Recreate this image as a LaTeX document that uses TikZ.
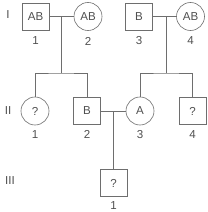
\documentclass[tikz,border=0pt]{standalone}
\usepackage{fontspec}
\setmainfont{Liberation Sans}
\usepackage{tikz}
\usetikzlibrary{positioning}
\usepackage{xcolor}
\definecolor{pedline}{HTML}{6E6E6E}
\definecolor{pedtext}{HTML}{505050}

\begin{document}
\begin{tikzpicture}[x=0.035cm, y=-0.035cm,
    every node/.style={text=pedtext, font=\fontsize{11.5}{13}\selectfont},
    male/.style={draw=pedline, line width=0.6pt, minimum size=0.95cm, inner sep=0pt},
    female/.style={draw=pedline, line width=0.6pt, circle, minimum size=0.98cm, inner sep=0pt},
    num/.style={inner sep=1pt},
    gen/.style={inner sep=0pt},
    tie/.style={draw=pedline, line width=0.6pt}]
  \useasboundingbox (0,0) rectangle (207,212);
  % generation I
  \node[gen] (gI) at (8,15) {I};
  \node[male] (i1) at (35.5,16.5) {AB};
  \node[female] (i2) at (88,16.5) {AB};
  \node[male] (i3) at (139,16.5) {B};
  \node[female] (i4) at (190.5,16.5) {AB};
  \node[num, below=5pt of i1] {1};
  \node[num, below=5pt of i2] {2};
  \node[num, below=5pt of i3] {3};
  \node[num, below=5pt of i4] {4};
  % generation II
  \node[gen] (gII) at (8,111) {II};
  \node[female] (ii1) at (35,111) {?};
  \node[male] (ii2) at (87,111) {B};
  \node[female] (ii3) at (140,111) {A};
  \node[male] (ii4) at (192.5,111) {?};
  \node[num, below=4pt of ii1] {1};
  \node[num, below=4pt of ii2] {2};
  \node[num, below=4pt of ii3] {3};
  \node[num, below=4pt of ii4] {4};
  % generation III
  \node[gen] (gIII) at (10,181) {III};
  \node[male] (iii1) at (113.5,183) {?};
  \node[num, below=3.5pt of iii1] {1};
  % lines
  \coordinate (m1) at (61,16.5);
  \coordinate (s1) at (61,73);
  \coordinate (m2) at (166,16.5);
  \coordinate (s2) at (166,73);
  \coordinate (m3) at (113.5,111);
  \draw[tie] (i1) -- (i2);
  \draw[tie] (i3) -- (i4);
  \draw[tie] (m1) -- (s1);
  \draw[tie] (m2) -- (s2);
  \draw[tie] (ii1.north) |- (s1) -| (ii2.north);
  \draw[tie] (ii3.north) |- (s2) -| (ii4.north);
  \draw[tie] (ii2) -- (ii3);
  \draw[tie] (m3) -- (iii1);
\end{tikzpicture}
\end{document}
